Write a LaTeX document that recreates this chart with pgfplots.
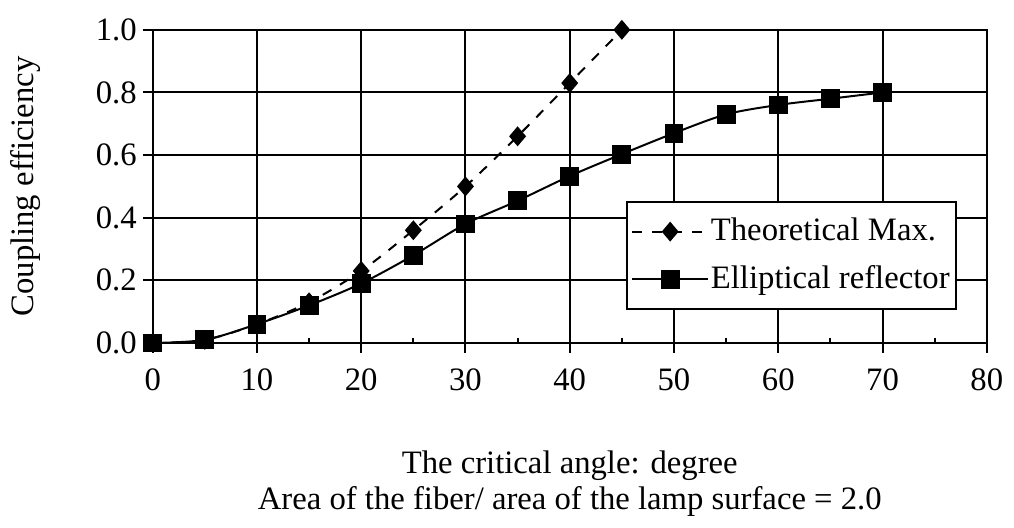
\documentclass[border=0pt]{standalone}
\usepackage{pgfplots}
\pgfplotsset{compat=1.18}
\usepackage{fontspec}
\setmainfont{Liberation Serif}
\begin{document}
\fontsize{33}{40}\selectfont
\begin{tikzpicture}
\begin{axis}[
  scale only axis, width=839bp, height=315bp,
  xmin=0, xmax=80, ymin=0, ymax=1.0,
  xtick={0,10,...,80}, ytick={0,0.2,...,1.0},
  xtick pos=bottom, ytick pos=left,
  tick align=outside, major tick length=10bp,
  tick style={black, line width=2bp},
  ticklabel style={font=\fontsize{33}{40}\selectfont},
  xticklabel style={yshift=-5bp},
  yticklabel style={xshift=5bp, /pgf/number format/fixed, /pgf/number format/fixed zerofill, /pgf/number format/precision=1},
  /pgf/number format/assume math mode=true,
  extra x ticks={5,15,...,75}, extra x tick labels={},
  extra x tick style={tick align=inside, major tick length=5bp, grid=none},
  grid=major, grid style={black, line width=2bp},
  axis line style={black, line width=2bp},
  xlabel={The critical angle: degree\\Area of the fiber/ area of the lamp surface = 2.0},
  xlabel style={align=center, at={(axis description cs:0.5,-0.31)}, anchor=north, font=\fontsize{33}{36}\selectfont},
  ylabel={Coupling efficiency},
  ylabel style={at={(axis description cs:-0.152,0.5)}, anchor=center, font=\fontsize{33}{40}\selectfont},
  legend style={at={(axis cs:77.1,0.105)}, anchor=south east, draw=black, line width=2bp, fill=white, font=\fontsize{33}{40}\selectfont, row sep=16bp, inner xsep=4bp, inner ysep=14bp},
  legend cell align=left,
  legend image code/.code={\draw[#1] (0cm,0cm) -- (0.5*76bp,0cm) -- (76bp,0cm); \path[#1, solid] plot coordinates {(38bp,0)};},
]
\addplot[black, line width=2bp, dash pattern=on 10bp off 10bp, smooth, mark=diamond*, mark size=8.5bp, mark options={solid, xscale=1.13}]
coordinates {(0,0) (5,0.01) (10,0.06) (15,0.13) (20,0.23) (25,0.36) (30,0.50) (35,0.66) (40,0.83) (45,1.0)};
\addlegendentry{Theoretical Max.}
\addplot[black, line width=2bp, smooth, mark=square*, mark size=8.5bp]
coordinates {(0,0) (5,0.01) (10,0.06) (15,0.12) (20,0.19) (25,0.28) (30,0.38) (35,0.454) (40,0.533) (45,0.603) (50,0.67) (55,0.73) (60,0.76) (65,0.78) (70,0.80)};
\addlegendentry{Elliptical reflector}
\end{axis}
\path (current axis.south west) ++(-153bp,-169bp) rectangle ++(1014bp,514bp);
\end{tikzpicture}
\end{document}
